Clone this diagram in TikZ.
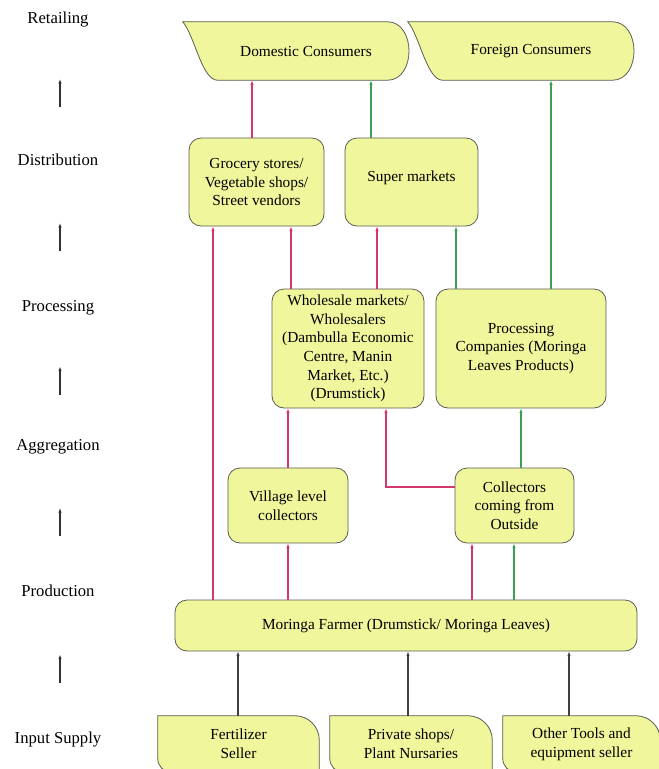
\documentclass[tikz,border=0pt]{standalone}
\usepackage{fontspec}
\setmainfont{Liberation Serif}
\usetikzlibrary{arrows.meta,calc,backgrounds}

\definecolor{boxfill}{HTML}{EFF69C}
\definecolor{boxline}{HTML}{5C5C52}
\definecolor{redflow}{HTML}{D2386A}
\definecolor{greenflow}{HTML}{3C9F52}

\begin{document}
\begin{tikzpicture}[x=.75pt,y=-.75pt,>={Latex[length=3.5pt,width=2.6pt]},
  font=\fontsize{11.5}{14}\selectfont,
  stage/.style={align=center,font=\fontsize{12.5}{15}\selectfont},
  box/.style={draw=boxline,fill=boxfill,line width=.6pt,rounded corners=9pt,
    align=center,inner sep=0pt},
  shapebox/.style={align=center,inner sep=0pt},
  shp/.style={draw=boxline,fill=boxfill,line width=.6pt},
  stagearr/.style={->,draw=black!80,line width=.8pt},
  redarr/.style={->,draw=redflow,line width=.9pt},
  greenarr/.style={->,draw=greenflow,line width=.9pt},
  inarr/.style={->,draw=black!75,line width=.8pt}]
\useasboundingbox (0,0) rectangle (659,769);
\clip (0,0) rectangle (659,769);

% stages on the left
\node[stage] (ret) at (58,20) {Retailing};
\node[stage] (dist) at (58,160) {Distribution};
\node[stage] (proc) at (58,308) {Processing};
\node[stage] (aggr) at (58,447) {Aggregation};
\node[stage] (prod) at (58,591) {Production};
\node[stage] (inp) at (58,740) {Input Supply};
\foreach \a/\b in {ret/dist,dist/proc,proc/aggr,aggr/prod,prod/inp}
  \draw[stagearr] ($(\b)!.5!(\a)+(2,17)$) -- ($(\b)!.5!(\a)+(2,-11)$);

% retailing
\node[shapebox,minimum width=150pt,minimum height=43.5pt] (dom) at (306,51)
  {Domestic Consumers};
\node[shapebox,minimum width=150pt,minimum height=43.5pt] (for) at (531,51)
  {Foreign Consumers};

% distribution
\node[box,minimum width=101.25pt,minimum height=66pt] (gro) at (256.5,182)
  {Grocery stores/\\Vegetable shops/\\Street vendors};
\node[box,minimum width=99.75pt,minimum height=66pt] (sup) at (411.5,182)
  {\raisebox{8pt}{Super markets}};

% processing
\node[box,minimum width=114pt,minimum height=89.25pt] (whole) at (348,348.5)
  {Wholesale markets/\\Wholesalers\\(Dambulla Economic\\Centre, Manin\\Market, Etc.)\\(Drumstick)};
\node[box,minimum width=127.5pt,minimum height=89.25pt] (pco) at (521,348.5)
  {Processing\\Companies (Moringa\\Leaves Products)};

% aggregation
\node[box,minimum width=90pt,minimum height=56.25pt] (vil) at (288,505.5)
  {Village level\\collectors};
\node[box,minimum width=89.25pt,minimum height=56.25pt] (out) at (514.5,505.5)
  {Collectors\\coming from\\Outside};

% production
\node[box,minimum width=346.5pt,minimum height=38.25pt] (farm) at (406,625.5)
  {Moringa Farmer (Drumstick/ Moringa Leaves)};

% input supply
\node[shapebox,minimum width=120.75pt,minimum height=42pt] (fert) at (238.5,744)
  {Fertilizer\\Seller};
\node[shapebox,minimum width=121.5pt,minimum height=42pt] (shop) at (411,744)
  {Private shops/\\Plant Nursaries};
\node[shapebox,minimum width=117.75pt,minimum height=42pt] (tool) at (581.5,744)
  {Other Tools and\\equipment seller};

\begin{scope}[on background layer]
 \foreach \n in {dom,for}
  \path[shp] ($(\n.north west)+(-23,0)$) -- ($(\n.north east)+(-19,0)$)
    .. controls +(29,0) and +(29,0) .. ($(\n.south east)+(-19,0)$)
    -- ($(\n.south west)+(12,0)$)
    .. controls +(-16,0) and +(12,14) .. ($(\n.north west)+(-23,0)$) -- cycle;
 \foreach \n in {fert,shop,tool}
  \path[shp] (\n.north west) -- ($(\n.north east)+(-24,0)$)
    .. controls +(13,0) and +(0,-13) .. ($(\n.north east)+(0,24)$)
    -- (\n.south east) -- ($(\n.south west)+(14,0)$)
    .. controls +(-8,0) and +(0,8) .. ($(\n.south west)+(0,-14)$) -- cycle;
\end{scope}

% flows
\draw[redarr] (gro.north -| 252,0) -- (dom.south -| 252,0);
\draw[greenarr] (sup.north -| 371,0) -- (dom.south -| 371,0);
\draw[greenarr] (pco.north -| 551,0) -- (for.south -| 551,0);
\draw[redarr] (farm.north -| 213,0) -- (gro.south -| 213,0);
\draw[redarr] (whole.north -| 291,0) -- (gro.south -| 291,0);
\draw[redarr] (whole.north -| 377,0) -- (sup.south -| 377,0);
\draw[greenarr] (pco.north -| 456,0) -- (sup.south -| 456,0);
\draw[redarr] (vil.north -| 288,0) -- (whole.south -| 288,0);
\draw[redarr] (out.west |- 0,487) -| (whole.south -| 386,0);
\draw[greenarr] (out.north -| 521,0) -- (pco.south -| 521,0);
\draw[redarr] (farm.north -| 288,0) -- (vil.south -| 288,0);
\draw[redarr] (farm.north -| 472,0) -- (out.south -| 472,0);
\draw[greenarr] (farm.north -| 514,0) -- (out.south -| 514,0);
\draw[inarr] (fert.north -| 238,0) -- (farm.south -| 238,0);
\draw[inarr] (shop.north -| 408,0) -- (farm.south -| 408,0);
\draw[inarr] (tool.north -| 569,0) -- (farm.south -| 569,0);
\end{tikzpicture}
\end{document}
